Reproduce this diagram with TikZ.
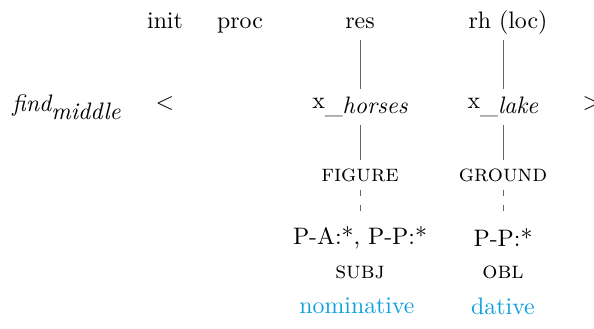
\documentclass[tikz,border=0pt]{standalone}
\definecolor{casecol}{RGB}{14,160,222}
\tikzset{
  head/.style={text height=1.6ex, text depth=0.3ex},
  link/.style={draw=black!60, thin},
  dlink/.style={link, dash pattern=on 2.5pt off 4pt},
  feat/.style={font=\scshape},
  case/.style={text=casecol}
}
\begin{document}
\begin{tikzpicture}[x=0.42pt, y=-0.42pt]
  \useasboundingbox (0,0) rectangle (594,329);
  % heads
  \node[head] (init) at (165,22) {init};
  \node[head] (proc) at (240,22) {proc};
  \node[head] (res)  at (360,22) {res};
  \node[head] (rh)   at (508,22) {rh (loc)};
  % arguments
  \node[anchor=west] (find) at (4,107) {$\textit{find}_{\textit{middle}}$};
  \node (lt) at (165,104) {$<$};
  \node (xh) at (360,107) {x\raisebox{-0.5ex}{\_\textit{horses}}};
  \node (xl) at (503,107) {x\raisebox{-0.5ex}{\_\textit{lake}}};
  \node (gt) at (592,104) {$>$};
  % roles
  \node[feat] (fig) at (360,175) {figure};
  \node[feat] (gnd) at (503,175) {ground};
  \node (pa)  at (360,238) {P-A:*, P-P:*};
  \node (pp)  at (503,238) {P-P:*};
  \node[feat] (subj) at (360,272) {subj};
  \node[feat] (obl)  at (503,272) {obl};
  \node[case] (nom) at (357,306) {nominative};
  \node[case] (dat) at (503,306) {dative};
  % links
  \draw[link] (res) -- (xh);
  \draw[link] (xh) -- (fig);
  \draw[dlink] (fig) -- (pa);
  \draw[link] (rh.south -| xl) -- (xl);
  \draw[link] (xl) -- (gnd.north -| xl);
  \draw[dlink] (gnd.south -| xl) -- (pp.north -| xl);
\end{tikzpicture}
\end{document}
